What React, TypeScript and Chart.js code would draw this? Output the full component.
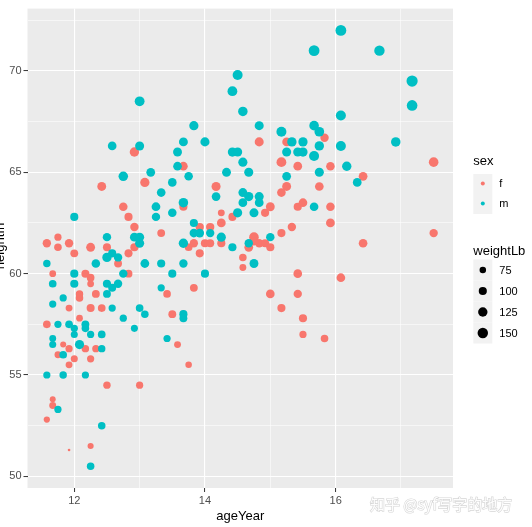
import React, { useEffect, useRef } from "react";
import { Chart, registerables } from "chart.js";

Chart.register(...registerables);

// ---- data (heightweight: girls) ----
const fAge = [11.92, 12.92, 12.75, 13.42, 15.92, 14.25, 15.42, 11.83, 13.33, 11.67, 11.58, 14.83, 13.08, 12.42, 11.92, 12.08, 15.92, 12.25, 12.25, 15.0, 11.75, 11.67, 13.67, 14.67, 15.42, 15.83, 13.83, 12.33, 14.17, 12.92, 14.83, 15.25, 13.67, 15.17, 15.42, 17.5, 16.42, 12.42, 12.83, 11.75, 11.92, 12.0, 12.5, 12.67, 12.92, 12.83, 11.67, 12.17, 12.25, 12.83, 12.08, 12.33, 11.92, 12.25, 12.08, 13.5, 11.58, 12.17, 11.75, 12.0, 12.25, 11.92, 12.5, 13.0, 11.58, 12.25, 13.58, 13.75, 15.83, 15.25, 15.17, 15.5, 13.67, 14.25, 14.42, 14.92, 15.17, 15.33, 13.92, 14.08, 13.75, 14.0, 14.08, 14.25, 13.92, 14.75, 14.75, 14.92, 15.0, 14.58, 14.58, 13.83, 15.42, 15.0, 15.17, 15.5, 15.5, 15.75, 15.92, 17.5, 16.42, 16.08];
const fHeight = [56.3, 62.3, 63.3, 59.0, 62.5, 62.5, 59.0, 56.5, 62.0, 53.8, 61.5, 61.5, 64.5, 58.3, 51.3, 58.8, 65.3, 59.5, 61.3, 63.3, 61.8, 53.5, 58.0, 61.3, 63.3, 66.7, 61.5, 56.3, 64.3, 66.0, 66.5, 66.5, 65.3, 65.5, 65.3, 65.5, 64.8, 64.3, 62.8, 61.3, 61.5, 61.0, 61.3, 60.5, 61.3, 61.0, 60.0, 60.0, 59.8, 60.0, 59.0, 59.0, 58.3, 58.3, 57.8, 58.0, 57.5, 56.3, 56.0, 55.8, 55.8, 55.5, 54.5, 54.5, 52.8, 51.5, 56.5, 55.5, 56.8, 64.3, 64.0, 63.5, 63.3, 63.0, 62.8, 63.0, 62.0, 62.3, 62.3, 62.3, 61.3, 61.5, 61.5, 61.5, 61.0, 61.8, 61.6, 61.5, 61.3, 60.8, 60.3, 59.3, 60.0, 59.0, 58.3, 57.8, 57.0, 64.3, 63.3, 62.0, 61.5, 59.8];
const fWeight = [85, 105, 108, 92, 112.5, 112, 104, 69, 94.5, 68.5, 104, 103.5, 123.5, 93, 50.5, 89, 107, 78.5, 115, 114, 85, 81, 83.5, 112, 101, 105, 103.5, 86, 118.5, 125, 118, 112, 110, 135, 112, 130, 112, 115, 100, 90, 105, 95, 98, 95, 100, 98, 78, 98, 92, 95, 88, 95, 80, 98, 78, 95, 92, 88, 80, 82, 85, 80, 88, 85, 72, 70, 80, 75, 90, 115, 110, 110, 100, 80, 98, 100, 100, 105, 102, 102, 92, 100, 98, 100, 98, 130, 110, 100, 100, 90, 80, 95, 110, 110, 100, 100, 85, 110, 108, 105, 110, 110];

// ---- data (heightweight: boys) ----
const mAge = [13.0, 12.58, 13.0, 13.58, 13.58, 12.75, 13.17, 15.67, 14.5, 14.42, 14.58, 13.83, 14.83, 15.67, 13.67, 14.0, 15.17, 15.33, 15.5, 14.42, 14.5, 15.25, 15.42, 15.5, 15.67, 14.58, 13.75, 14.33, 14.67, 15.25, 16.08, 16.67, 17.17, 17.17, 16.08, 15.75, 15.75, 16.08, 16.92, 16.17, 15.75, 16.33, 13.5, 13.33, 13.25, 13.25, 13.5, 12.0, 12.5, 12.58, 12.5, 12.67, 12.33, 12.92, 13.0, 13.0, 13.08, 13.33, 13.5, 11.58, 12.0, 12.75, 11.67, 12.0, 12.5, 12.67, 12.58, 13.33, 11.83, 12.5, 11.67, 12.58, 13.0, 13.08, 12.75, 11.75, 11.92, 12.0, 12.17, 12.17, 12.0, 12.25, 12.42, 12.92, 13.42, 11.67, 11.67, 12.08, 12.42, 11.83, 11.58, 11.83, 12.17, 11.75, 12.42, 12.25, 14.17, 14.58, 14.67, 14.83, 14.58, 14.83, 15.67, 13.67, 14.5, 14.75, 13.83, 13.83, 13.92, 14.08, 14.25, 13.67, 14.42, 14.67, 15.0, 14.75, 13.67, 14.0, 13.67, 13.67];
const mHeight = [68.5, 66.3, 66.3, 66.0, 65.3, 64.8, 65.0, 71.0, 69.8, 69.0, 68.0, 67.3, 67.3, 67.3, 66.5, 66.5, 67.0, 66.5, 66.5, 66.0, 66.0, 66.0, 66.0, 66.0, 65.8, 65.5, 64.8, 65.0, 65.0, 64.8, 72.0, 71.0, 69.5, 68.3, 67.8, 67.0, 66.3, 66.3, 66.5, 65.3, 65.0, 64.5, 64.5, 64.0, 63.3, 62.8, 63.0, 62.8, 61.8, 61.0, 60.8, 60.8, 60.5, 61.8, 61.8, 61.5, 60.5, 60.5, 60.0, 60.5, 60.0, 60.0, 59.5, 59.5, 59.5, 59.5, 59.3, 59.3, 58.8, 59.0, 58.5, 58.3, 58.3, 58.0, 57.8, 57.5, 57.5, 57.3, 57.5, 57.3, 57.0, 57.0, 57.0, 57.3, 56.8, 56.8, 56.5, 56.5, 56.3, 56.0, 55.0, 55.0, 55.0, 53.3, 52.5, 50.5, 63.8, 64.0, 63.8, 63.8, 63.5, 63.5, 63.3, 63.5, 63.0, 63.0, 62.5, 62.0, 62.0, 62.0, 61.8, 61.5, 61.3, 61.5, 61.8, 60.5, 60.5, 60.0, 58.0, 57.8];
const mWeight = [135, 110, 118, 115, 110, 128, 112, 160, 140, 135, 128, 122, 118, 130, 115, 120, 140, 125, 122, 122, 120, 118, 120, 122, 140, 120, 108, 115, 118, 112, 160, 150, 171.5, 155, 140, 133, 125, 140, 128, 125, 118, 112, 110, 110, 112, 105, 108, 100, 105, 100, 125, 105, 108, 115, 118, 118, 112, 100, 100, 88, 100, 105, 92, 100, 100, 105, 98, 85, 85, 95, 85, 85, 92, 90, 85, 85, 92, 85, 95, 90, 82, 85, 92, 82, 85, 80, 82, 120, 88, 92, 85, 88, 85, 85, 90, 90, 110, 115, 122, 118, 112, 112, 110, 128, 120, 118, 100, 108, 110, 105, 120, 125, 100, 105, 105, 115, 105, 100, 100, 95];

const xTicks = [12, 13, 14, 15, 16, 17];
const yTicks = [50, 52.5, 55, 57.5, 60, 62.5, 65, 67.5, 70, 72.5];
const sexLabels = ["f", "m"];
const weightBreaks = [75, 100, 125, 150];

const COL_F = "#F8766D";
const COL_M = "#00BFC4";
const FONT = "'Liberation Sans', Arial, sans-serif";
const W_MIN = 50.5;
const W_MAX = 171.5;

function radiusFor(w: number) {
  const s = 1 + 5 * Math.sqrt(Math.max(0, w - W_MIN) / (W_MAX - W_MIN));
  return 0.3 * (s * 2.845 + 0.945) + 0.2;
}

function pts(a: number[], h: number[], w: number[]) {
  return a.map((x, i) => ({ x, y: h[i], w: w[i] }));
}

const bgPlugin = {
  id: "ggbg",
  beforeDraw(chart: any) {
    const { ctx, chartArea: a } = chart;
    ctx.save();
    ctx.fillStyle = "#FFFFFF";
    ctx.fillRect(0, 0, chart.width, chart.height);
    ctx.fillStyle = "#EBEBEB";
    ctx.fillRect(a.left, a.top, a.right - a.left, a.bottom - a.top);
    ctx.restore();
  },
  afterDraw(chart: any) {
    const { ctx, chartArea: a } = chart;
    ctx.save();
    // axis titles
    ctx.fillStyle = "#000000";
    ctx.font = `13px ${FONT}`;
    ctx.textAlign = "center";
    ctx.textBaseline = "middle";
    ctx.fillText("ageYear", (a.left + a.right) / 2, 516);
    ctx.save();
    ctx.translate(3.5, 246);
    ctx.rotate(-Math.PI / 2);
    ctx.textBaseline = "alphabetic";
    ctx.fillText("heightIn", 0, 0);
    ctx.restore();

    // legend: sex
    const lx = 473.3;
    ctx.textAlign = "left";
    ctx.textBaseline = "middle";
    ctx.font = `13px ${FONT}`;
    ctx.fillText("sex", lx, 161);
    const sexCols = [COL_F, COL_M];
    sexLabels.forEach((lab, i) => {
      const top = 174 + i * 20;
      ctx.fillStyle = "#F2F2F2";
      ctx.fillRect(lx, top, 19, 20);
      ctx.fillStyle = sexCols[i];
      ctx.beginPath();
      ctx.arc(lx + 9.5, top + 9.5, 2, 0, Math.PI * 2);
      ctx.fill();
      ctx.fillStyle = "#000000";
      ctx.font = `11px ${FONT}`;
      ctx.fillText(lab, lx + 26, top + 10);
    });

    // legend: weightLb
    ctx.font = `13px ${FONT}`;
    ctx.fillStyle = "#000000";
    ctx.fillText("weightLb", lx, 251);
    weightBreaks.forEach((wb, i) => {
      const top = 259.5 + i * 21;
      ctx.fillStyle = "#F2F2F2";
      ctx.fillRect(lx, top, 19, 21);
      ctx.fillStyle = "#000000";
      ctx.beginPath();
      ctx.arc(lx + 9.5, top + 10.5, radiusFor(wb), 0, Math.PI * 2);
      ctx.fill();
      ctx.font = `11px ${FONT}`;
      ctx.fillText(String(wb), lx + 26, top + 11);
    });

    // watermark
    ctx.font = `15px 'Noto Sans CJK SC', ${FONT}`;
    ctx.textAlign = "left";
    ctx.textBaseline = "middle";
    ctx.lineWidth = 1.2;
    ctx.strokeStyle = "rgba(150,150,150,0.4)";
    ctx.strokeText("知乎 @syf写字的地方", 370, 504);
    ctx.fillStyle = "rgba(255,255,255,0.95)";
    ctx.fillText("知乎 @syf写字的地方", 370, 504);
    ctx.restore();
  },
};

export default function App() {
  const ref = useRef<HTMLCanvasElement | null>(null);
  useEffect(() => {
    document.body.style.margin = "0";
    const canvas = ref.current;
    if (!canvas) return;
    const chart = new Chart(canvas, {
      type: "scatter",
      data: {
        datasets: [
          {
            label: "m",
            data: pts(mAge, mHeight, mWeight),
            backgroundColor: COL_M,
            borderWidth: 0,
            pointRadius: (c: any) => radiusFor(c.raw ? c.raw.w : 100),
            pointHoverRadius: (c: any) => radiusFor(c.raw ? c.raw.w : 100),
            order: 0,
          },
          {
            label: "f",
            data: pts(fAge, fHeight, fWeight),
            backgroundColor: COL_F,
            borderWidth: 0,
            pointRadius: (c: any) => radiusFor(c.raw ? c.raw.w : 100),
            pointHoverRadius: (c: any) => radiusFor(c.raw ? c.raw.w : 100),
            order: 1,
          },
        ],
      },
      options: {
        responsive: false,
        animation: false,
        events: [],
        layout: { padding: { top: 6.7, right: 79, left: 0, bottom: 0 } },
        plugins: { legend: { display: false }, tooltip: { enabled: false } },
        scales: {
          x: {
            type: "linear",
            min: 11.284,
            max: 17.796,
            afterBuildTicks: (s: any) => {
              s.ticks = xTicks.map((v) => ({ value: v }));
            },
            afterFit: (s: any) => {
              s.height = 39;
            },
            border: { display: false },
            grid: {
              color: "#FFFFFF",
              lineWidth: (c: any) => (c.tick && c.tick.value % 2 === 0 ? 1.1 : 0.55),
              tickColor: (c: any) => (c.tick && c.tick.value % 2 === 0 ? "#333333" : "rgba(0,0,0,0)"),
              tickLength: 4,
              tickWidth: 1,
            },
            ticks: {
              autoSkip: false,
              maxRotation: 0,
              padding: 2,
              color: "#4D4D4D",
              font: { family: FONT, size: 11 },
              callback: (v: any) => (Number(v) % 2 === 0 ? String(v) : ""),
            },
          },
          y: {
            type: "linear",
            min: 49.425,
            max: 73.075,
            afterBuildTicks: (s: any) => {
              s.ticks = yTicks.map((v) => ({ value: v }));
            },
            afterFit: (s: any) => {
              s.width = 27.5;
            },
            border: { display: false },
            grid: {
              color: "#FFFFFF",
              lineWidth: (c: any) => (c.tick && c.tick.value % 5 === 0 ? 1.1 : 0.55),
              tickColor: (c: any) => (c.tick && c.tick.value % 5 === 0 ? "#333333" : "rgba(0,0,0,0)"),
              tickLength: 4,
              tickWidth: 1,
            },
            ticks: {
              autoSkip: false,
              padding: 2,
              color: "#4D4D4D",
              font: { family: FONT, size: 11 },
              callback: (v: any) => (Number(v) % 5 === 0 ? String(v) : ""),
            },
          },
        },
      },
      plugins: [bgPlugin],
    } as any);
    return () => chart.destroy();
  }, []);
  return (
    <div style={{ width: 532, height: 527, position: "relative" }}>
      <canvas ref={ref} width={532} height={527} style={{ display: "block", width: 532, height: 527 }} />
    </div>
  );
}
